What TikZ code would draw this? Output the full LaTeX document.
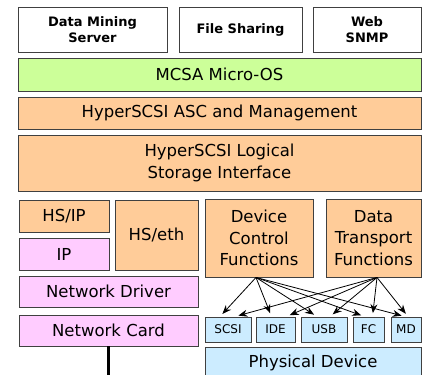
\documentclass[tikz,border=0pt]{standalone}
\usepackage{fontspec}
\setmainfont{DejaVu Sans}
\usepackage{xcolor}
\usepackage{tikz}
\usetikzlibrary{arrows.meta}

\definecolor{hsorange}{HTML}{FFCC99}
\definecolor{osgreen}{HTML}{CCFF99}
\definecolor{netpink}{HTML}{FFCCFF}
\definecolor{devblue}{HTML}{CCECFF}
\definecolor{edgegray}{HTML}{404040}

\tikzset{
  layer/.style={draw=edgegray, line width=0.9pt, inner sep=0pt, align=center,
    font=\fontsize{16.5}{21.5}\selectfont},
  app/.style={layer, fill=white, font=\fontsize{13}{16.5}\selectfont\bfseries},
  hsbox/.style={layer, fill=hsorange},
  netbox/.style={layer, fill=netpink},
  devbox/.style={layer, fill=devblue, font=\fontsize{12}{14}\selectfont},
  link/.style={-{Stealth[length=9pt,width=7pt]}, line width=0.8pt, shorten >=3.5pt},
}

\begin{document}
\begin{tikzpicture}[x=1pt, y=-1pt]
	\useasboundingbox (0,0) rectangle (422,374);
	% Define nodes
	% applications
	\node[app, minimum width=149pt, minimum height=45pt] (dms) at (92.5,29.5) {Data Mining\\Server};
	\node[app, minimum width=123pt, minimum height=45pt] (fs) at (240.5,29.5) {File Sharing};
	\node[app, minimum width=108pt, minimum height=45pt] (web) at (367,29.5) {Web\\SNMP};
	% OS and HyperSCSI layers
	\node[layer, fill=osgreen, minimum width=403pt, minimum height=33pt] (mcsa) at (219.5,74.5) {MCSA Micro-OS};
	\node[hsbox, minimum width=403pt, minimum height=32pt] (asc) at (219.5,113) {HyperSCSI ASC and Management};
	\node[hsbox, minimum width=403pt, minimum height=56pt] (lsi) at (219.5,163) {HyperSCSI Logical\\Storage Interface};
	% network side
	\node[hsbox, minimum width=90pt, minimum height=32pt] (hsip) at (64,216) {HS/IP};
	\node[netbox, minimum width=90pt, minimum height=32pt] (ip) at (64,254) {IP};
	\node[hsbox, minimum width=83pt, minimum height=70pt] (hseth) at (156.5,235) {HS/eth};
	\node[netbox, minimum width=179pt, minimum height=31pt] (nd) at (108.5,291.5) {Network Driver};
	\node[netbox, minimum width=179pt, minimum height=31pt] (nc) at (108.5,330.5) {Network Card};
	\coordinate (wire) at (108.5,376);
	% device side
	\node[hsbox, minimum width=108pt, minimum height=78pt] (dcf) at (259,238) {Device\\Control\\Functions};
	\node[hsbox, minimum width=95pt, minimum height=78pt] (dtf) at (373.5,238) {Data\\Transport\\Functions};
	\node[devbox, minimum width=46pt, minimum height=25pt] (scsi) at (228,329.5) {SCSI};
	\node[devbox, minimum width=39pt, minimum height=25pt] (ide) at (275.5,329.5) {IDE};
	\node[devbox, minimum width=46pt, minimum height=25pt] (usb) at (324,329.5) {USB};
	\node[devbox, minimum width=31pt, minimum height=25pt] (fc) at (368.5,329.5) {FC};
	\node[devbox, minimum width=30pt, minimum height=25pt] (md) at (406,329.5) {MD};
	\node[layer, fill=devblue, minimum width=216pt, minimum height=31pt] (phys) at (313,362.5) {Physical Device};
	% Edges
	\coordinate (dc) at ([xshift=-3pt]dcf.south);
	\coordinate (dt) at ([xshift=3.5pt]dtf.south);
	\foreach \dev/\fromdc/\fromdt in {scsi/-8/7, ide/-4/11, usb/-7/6, fc/-4/4, md/-1/2} {
		\draw[link] (dc) -- ([xshift=\fromdc pt]\dev.north);
		\draw[link] (dt) -- ([xshift=\fromdt pt]\dev.north);
	}
	\draw[line width=2.5pt] (nc.south) -- (wire);
\end{tikzpicture}
\end{document}
